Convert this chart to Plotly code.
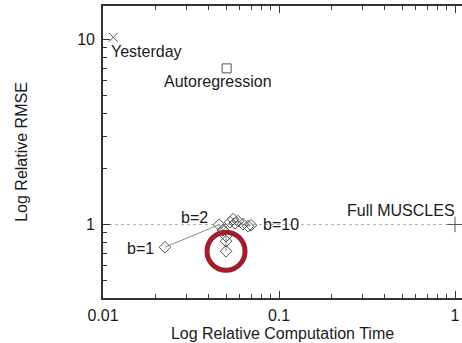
import math
import plotly.graph_objects as go

# Baselines: (relative computation time, relative RMSE)
yesterday_time, yesterday_rmse = 0.01144, 10.25
autoreg_time, autoreg_rmse = 0.0504, 6.97
full_time, full_rmse = 1.0, 1.0

# Selective MUSCLES for b = 1 .. 10
b_values = [1, 2, 3, 4, 5, 6, 7, 8, 9, 10]
sel_time = [0.0225, 0.0456, 0.0481, 0.0527, 0.0548, 0.0562, 0.0585, 0.0624, 0.0667, 0.0693]
sel_rmse = [0.754, 0.997, 0.932, 1.029, 1.068, 1.016, 1.042, 1.004, 0.979, 0.991]

# Additional selective runs branching below the b=3 configuration
branch_time = [0.0481, 0.0500, 0.0500, 0.0500]
branch_rmse = [0.932, 0.865, 0.813, 0.717]

REFERENCE_RMSE = 1.0

x_ticks = [0.01, 0.1, 1]
x_tick_text = ["0.01", "0.1", "1"]
y_ticks = [1, 10]
y_tick_text = ["1", "10"]

# 2..9 within each decade
x_minor = [m * 10.0 ** e for e in (-2, -1, 0) for m in range(2, 10)]
y_minor = [m * 10.0 ** e for e in (-1, 0, 1) for m in range(2, 10)]

FONT = "Liberation Sans, Arial, Helvetica, sans-serif"
MARK = "#555555"
LINE = "#8a8a8a"
AXIS = "#333333"

fig = go.Figure()

# dotted reference line at relative RMSE = 1
fig.add_trace(go.Scatter(
    x=[0.01, 1.2], y=[REFERENCE_RMSE, REFERENCE_RMSE], mode="lines",
    line=dict(color="#b5b5b5", width=1, dash="dot"), hoverinfo="skip"))

fig.add_trace(go.Scatter(
    x=sel_time, y=sel_rmse, mode="lines+markers",
    line=dict(color=LINE, width=1),
    marker=dict(symbol="diamond-open", size=9, color=MARK, line=dict(width=1))))

fig.add_trace(go.Scatter(
    x=branch_time, y=branch_rmse, mode="lines+markers",
    line=dict(color=LINE, width=1),
    marker=dict(symbol="diamond-open", size=9, color=MARK, line=dict(width=1))))

fig.add_trace(go.Scatter(
    x=[yesterday_time], y=[yesterday_rmse], mode="markers",
    marker=dict(symbol="x-thin-open", size=9, color=MARK, line=dict(width=1, color=MARK))))

fig.add_trace(go.Scatter(
    x=[autoreg_time], y=[autoreg_rmse], mode="markers",
    marker=dict(symbol="square-open", size=9, color=MARK, line=dict(width=1))))

fig.add_trace(go.Scatter(
    x=[full_time], y=[full_rmse], mode="markers",
    marker=dict(symbol="cross-thin-open", size=11, color=MARK, line=dict(width=1, color=MARK))))

# highlight ring around the lowest-error selective run
fig.add_trace(go.Scatter(
    x=[branch_time[-1]], y=[branch_rmse[-1]], mode="markers",
    marker=dict(symbol="circle-open", size=38, color="#a11d2c",
                line=dict(width=5, color="#a11d2c"))))


def label(text, x, y, xanchor, xshift, yshift):
    fig.add_annotation(
        x=math.log10(x), y=math.log10(y), text=text, showarrow=False,
        xanchor=xanchor, yanchor="middle", xshift=xshift, yshift=yshift,
        font=dict(family=FONT, size=16, color="#1a1a1a"))


label("Yesterday", yesterday_time, yesterday_rmse, "left", -4, -14)
label("Autoregression", autoreg_time, autoreg_rmse, "center", -9, -13)
label("Full MUSCLES", full_time, full_rmse, "right", 2, 14)
label("b=1", sel_time[0], sel_rmse[0], "right", -9, -1)
label("b=2", sel_time[1], sel_rmse[1], "right", -9, 7)
label("b=10", sel_time[-1], sel_rmse[-1], "left", 10, 1)

axis_common = dict(
    type="log", showgrid=False, zeroline=False,
    showline=True, linecolor=AXIS, linewidth=1.6,
    ticks="inside", ticklen=7, tickwidth=1.3, tickcolor=AXIS,
    tickfont=dict(family=FONT, size=16, color="#1a1a1a"),
)

fig.update_layout(
    width=462, height=343,
    margin=dict(l=103, r=0, t=6, b=45),
    paper_bgcolor="white", plot_bgcolor="white",
    showlegend=False,
    xaxis=dict(
        **axis_common, range=[-2, 0.0398], mirror="ticks",
        tickvals=x_ticks, ticktext=x_tick_text, ticklabelstandoff=2,
        minor=dict(ticks="inside", ticklen=4, tickwidth=1, tickcolor=AXIS,
                   tickmode="array", tickvals=x_minor, showgrid=False),
        title=dict(text="Log Relative Computation Time", standoff=5,
                   font=dict(family=FONT, size=16, color="#1a1a1a")),
    ),
    yaxis=dict(
        **axis_common, range=[-0.397, 1.18],
        tickvals=y_ticks, ticktext=y_tick_text, ticklabelstandoff=3,
        minor=dict(ticks="inside", ticklen=4, tickwidth=1, tickcolor=AXIS,
                   tickmode="array", tickvals=y_minor, showgrid=False),
        title=dict(text="Log Relative RMSE", standoff=46,
                   font=dict(family=FONT, size=16, color="#1a1a1a")),
    ),
    yaxis2=dict(
        type="log", range=[-0.397, 1.18], overlaying="y", side="right",
        showgrid=False, zeroline=False, showline=False, showticklabels=False,
        ticks="inside", ticklen=7, tickwidth=1.3, tickcolor=AXIS,
        tickvals=y_ticks,
    ),
)

fig.write_html("out.html")
